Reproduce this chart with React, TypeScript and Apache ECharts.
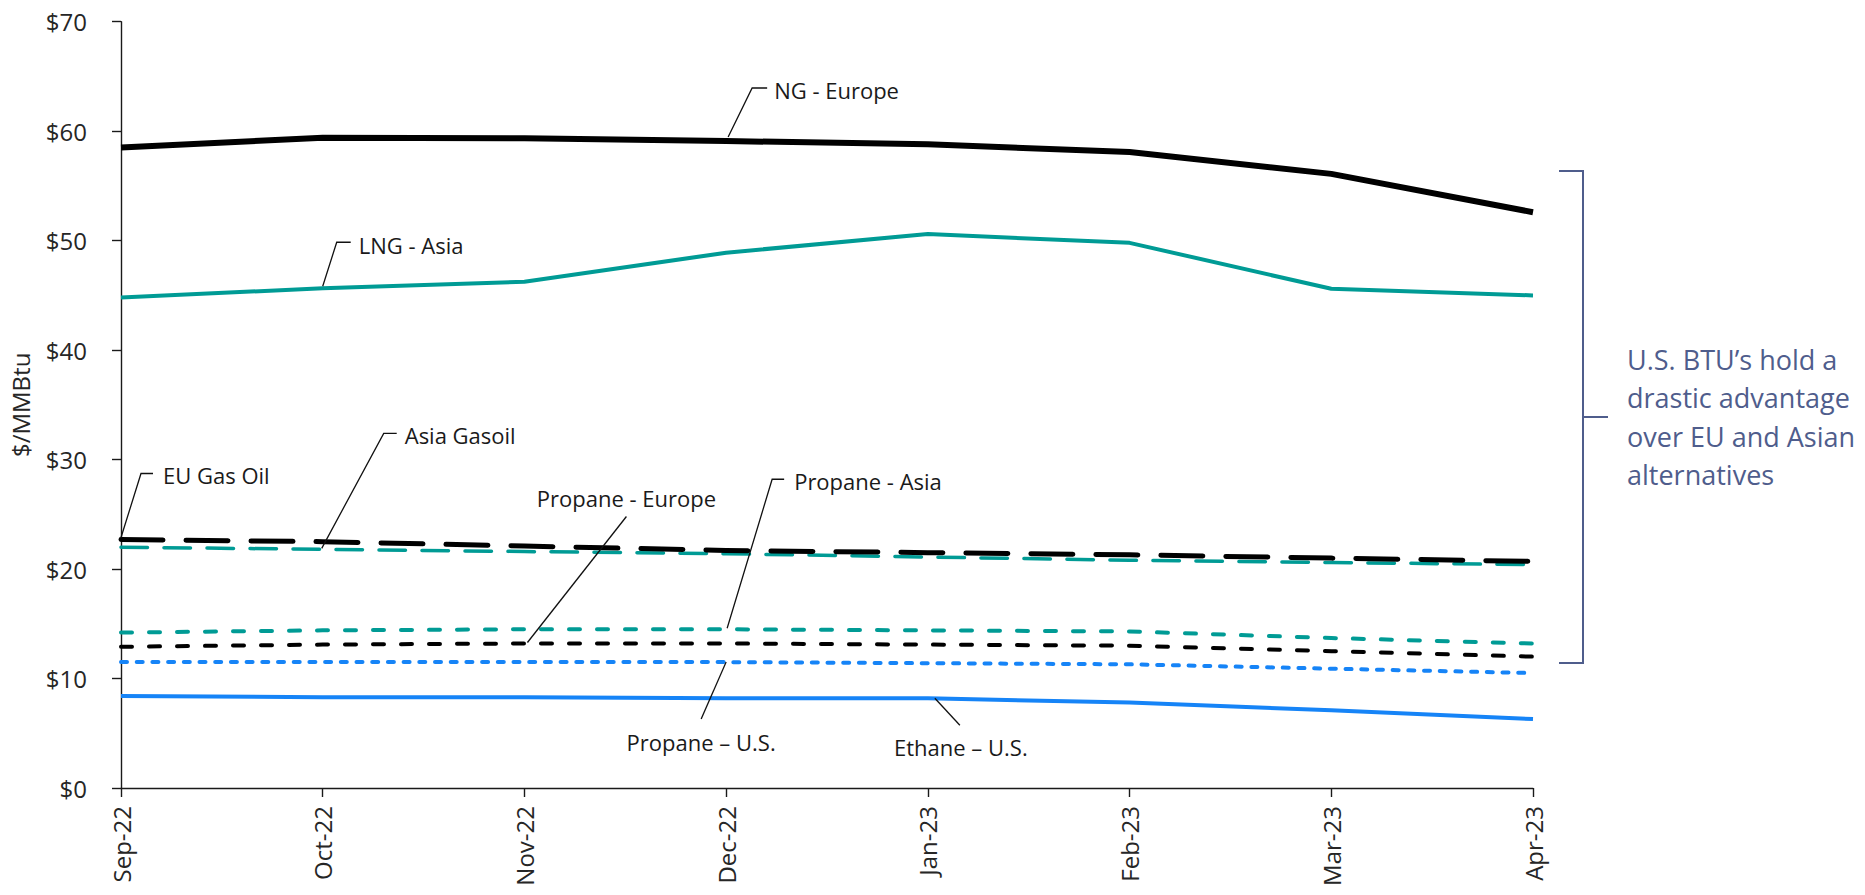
import React, { useEffect, useRef } from 'react';
import * as echarts from 'echarts';

// ---- data ----
const months = ['Sep-22', 'Oct-22', 'Nov-22', 'Dec-22', 'Jan-23', 'Feb-23', 'Mar-23', 'Apr-23'];
const ngEurope = [58.5, 59.4, 59.35, 59.1, 58.8, 58.1, 56.1, 52.6];
const lngAsia = [44.8, 45.65, 46.25, 48.9, 50.6, 49.8, 45.6, 45.0];
const euGasOil = [22.7, 22.5, 22.1, 21.7, 21.5, 21.3, 21.0, 20.7];
const asiaGasoil = [22.0, 21.8, 21.6, 21.4, 21.1, 20.8, 20.6, 20.4];
const propaneAsia = [14.2, 14.4, 14.5, 14.5, 14.4, 14.3, 13.7, 13.2];
const propaneEurope = [12.9, 13.1, 13.2, 13.2, 13.1, 13.0, 12.5, 12.0];
const propaneUS = [11.5, 11.5, 11.5, 11.5, 11.4, 11.3, 10.9, 10.5];
const ethaneUS = [8.4, 8.3, 8.3, 8.2, 8.2, 7.8, 7.1, 6.3];

const yMin = 0;
const yMax = 70;
const yStep = 10;

const noteText = 'U.S. BTU\u2019s hold a\ndrastic advantage\nover EU and Asian\nalternatives';

const BLACK = '#000000';
const TEAL = '#009B95';
const BLUE = '#1684F7';
const NOTE = '#4F5D8C';
const FONT = '"Open Sans", "Noto Sans", sans-serif';

export default function App() {
  const ref = useRef<HTMLDivElement>(null);

  useEffect(() => {
    document.body.style.margin = '0';
    const chart = echarts.init(ref.current!, null, { renderer: 'svg' });

    const defs = [
      { key: 'ng', name: 'NG - Europe', data: ngEurope, color: BLACK, width: 6, type: 'solid' as any, cap: 'butt' },
      { key: 'lng', name: 'LNG - Asia', data: lngAsia, color: TEAL, width: 4, type: 'solid' as any, cap: 'butt' },
      { key: 'asiaGas', name: 'Asia Gasoil', data: asiaGasoil, color: TEAL, width: 3.5, type: [26.5, 16.5], cap: 'round' },
      { key: 'euGas', name: 'EU Gas Oil', data: euGasOil, color: BLACK, width: 5, type: [42, 23], cap: 'round' },
      { key: 'propAsia', name: 'Propane - Asia', data: propaneAsia, color: TEAL, width: 4, type: [11, 17], cap: 'round' },
      { key: 'propEu', name: 'Propane - Europe', data: propaneEurope, color: BLACK, width: 4, type: [11, 17], cap: 'round' },
      { key: 'propUS', name: 'Propane \u2013 U.S.', data: propaneUS, color: BLUE, width: 4, type: [6, 9.7], cap: 'round' },
      { key: 'ethUS', name: 'Ethane \u2013 U.S.', data: ethaneUS, color: BLUE, width: 4, type: 'solid' as any, cap: 'butt' },
    ];
    const byKey: Record<string, any> = {};
    defs.forEach((d) => (byKey[d.key] = d));

    chart.setOption({
      animation: false,
      backgroundColor: '#ffffff',
      textStyle: { fontFamily: FONT },
      grid: { left: 119.5, right: 332, top: 21.7, bottom: 107, containLabel: false },
      xAxis: {
        type: 'category',
        data: months,
        boundaryGap: false,
        axisLine: { lineStyle: { color: '#1a1a1a', width: 1.4 } },
        axisTick: { show: true, alignWithLabel: true, length: 9, lineStyle: { color: '#1a1a1a', width: 1.4 } },
        axisLabel: { rotate: 90, fontSize: 24, color: '#262626', margin: 18, fontFamily: FONT },
        splitLine: { show: false },
      },
      yAxis: {
        type: 'value',
        min: yMin,
        max: yMax,
        interval: yStep,
        name: '$/MMBtu',
        nameLocation: 'middle',
        nameRotate: 90,
        nameGap: 89,
        nameTextStyle: { fontSize: 24, color: '#262626', fontFamily: FONT },
        axisLine: { show: true, lineStyle: { color: '#1a1a1a', width: 1.4 } },
        axisTick: { show: true, length: 9, lineStyle: { color: '#1a1a1a', width: 1.4 } },
        axisLabel: { fontSize: 24, color: '#262626', margin: 34, fontFamily: FONT, formatter: (v: number) => '$' + v },
        splitLine: { show: false },
      },
      series: defs.map((d) => ({
        type: 'line',
        name: d.name,
        data: d.data,
        symbol: 'none',
        smooth: false,
        lineStyle: { color: d.color, width: d.width, type: d.type, cap: d.cap, join: 'round' },
      })),
    });

    // callouts: leader polylines anchored to data points
    const callouts = [
      { key: 'ng', idx: 3, text: 'NG - Europe', pts: [[2, -4], [26, -53], [41, -53]], tx: 48, ty: -51, align: 'left' },
      { key: 'lng', idx: 1, text: 'LNG - Asia', pts: [[0, -2], [14, -46], [28, -46]], tx: 36, ty: -43, align: 'left' },
      { key: 'euGas', idx: 0, text: 'EU Gas Oil', pts: [[0, -2], [20, -66], [32, -66]], tx: 42, ty: -64, align: 'left' },
      { key: 'asiaGas', idx: 1, text: 'Asia Gasoil', pts: [[-1, -1], [61, -116], [74, -116]], tx: 82, ty: -114, align: 'left' },
      { key: 'propEu', idx: 2, text: 'Propane - Europe', pts: [[3, -1], [102, -127]], tx: 102, ty: -145, align: 'center' },
      { key: 'propAsia', idx: 3, text: 'Propane - Asia', pts: [[1, -1], [46, -150], [58, -150]], tx: 68, ty: -148, align: 'left' },
      { key: 'propUS', idx: 3, text: 'Propane \u2013 U.S.', pts: [[0, 0], [-25, 57]], tx: -25, ty: 80, align: 'center' },
      { key: 'ethUS', idx: 4, text: 'Ethane \u2013 U.S.', pts: [[7, 0], [32, 27]], tx: 33, ty: 49, align: 'center' },
    ];

    const graphics: any[] = [];
    callouts.forEach((c) => {
      const d = byKey[c.key];
      const p = chart.convertToPixel({ gridIndex: 0 } as any, [c.idx, d.data[c.idx]]) as number[];
      graphics.push({
        type: 'polyline',
        silent: true,
        z: 50,
        shape: { points: c.pts.map(([dx, dy]) => [p[0] + dx, p[1] + dy]) },
        style: { stroke: '#111', lineWidth: 1.3, fill: null },
      });
      graphics.push({
        type: 'text',
        silent: true,
        z: 50,
        x: p[0] + c.tx,
        y: p[1] + c.ty,
        style: {
          text: c.text,
          fill: '#1a1a1a',
          font: `22px ${FONT}`,
          textAlign: c.align,
          textVerticalAlign: 'middle',
        },
      });
    });

    // bracket annotation on the right
    graphics.push({
      type: 'polyline',
      silent: true,
      shape: { points: [[1559, 171], [1583, 171], [1583, 663], [1559, 663]] },
      style: { stroke: NOTE, lineWidth: 2, fill: null },
    });
    graphics.push({
      type: 'line',
      silent: true,
      shape: { x1: 1583, y1: 417, x2: 1608, y2: 417 },
      style: { stroke: NOTE, lineWidth: 2 },
    });
    graphics.push({
      type: 'text',
      silent: true,
      x: 1627,
      y: 417,
      style: {
        text: noteText,
        fill: NOTE,
        font: `27px ${FONT}`,
        lineHeight: 38.5,
        textAlign: 'left',
        textVerticalAlign: 'middle',
      },
    });

    chart.setOption({ graphic: graphics });

    return () => chart.dispose();
  }, []);

  return <div ref={ref} style={{ width: 1865, height: 895 }} />;
}
